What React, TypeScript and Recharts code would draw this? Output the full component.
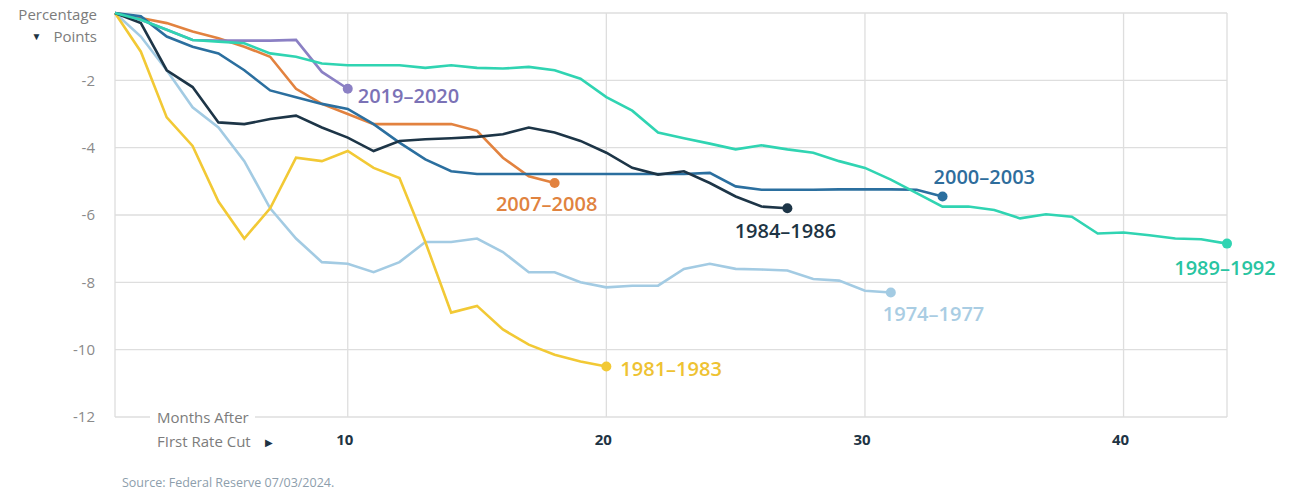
import { CartesianGrid, Line, LineChart, XAxis, YAxis } from "recharts";

const MONTHS = Array.from({ length: 44 }, (_, i) => i + 1);
const X_TICKS = [10, 20, 30, 40];
const Y_TICKS = [-12, -10, -8, -6, -4, -2, 0];

const S_1974 = [0, -0.7, -1.7, -2.8, -3.4, -4.4, -5.8, -6.7, -7.4, -7.45, -7.7, -7.4, -6.8, -6.8, -6.7, -7.1, -7.7, -7.7, -8.0, -8.15, -8.1, -8.1, -7.6, -7.45, -7.6, -7.62, -7.65, -7.9, -7.95, -8.25, -8.3];
const S_1981 = [0, -1.15, -3.1, -3.95, -5.6, -6.7, -5.8, -4.3, -4.4, -4.1, -4.6, -4.9, -6.8, -8.9, -8.7, -9.4, -9.85, -10.15, -10.35, -10.5];
const S_1984 = [0, -0.3, -1.7, -2.2, -3.25, -3.3, -3.15, -3.05, -3.4, -3.7, -4.1, -3.8, -3.75, -3.72, -3.68, -3.6, -3.4, -3.55, -3.8, -4.15, -4.6, -4.8, -4.7, -5.05, -5.45, -5.75, -5.8];
const S_1989 = [0, -0.2, -0.5, -0.8, -0.85, -0.9, -1.2, -1.3, -1.5, -1.55, -1.55, -1.55, -1.63, -1.55, -1.63, -1.65, -1.6, -1.7, -1.95, -2.5, -2.9, -3.55, -3.72, -3.88, -4.05, -3.93, -4.05, -4.15, -4.4, -4.6, -4.95, -5.35, -5.75, -5.75, -5.85, -6.1, -5.98, -6.05, -6.55, -6.52, -6.6, -6.7, -6.72, -6.85];
const S_2000 = [0, -0.1, -0.7, -1.0, -1.2, -1.7, -2.3, -2.5, -2.7, -2.85, -3.3, -3.85, -4.35, -4.7, -4.78, -4.78, -4.78, -4.78, -4.78, -4.78, -4.78, -4.78, -4.78, -4.75, -5.15, -5.25, -5.25, -5.25, -5.24, -5.24, -5.24, -5.25, -5.45];
const S_2007 = [0, -0.15, -0.3, -0.55, -0.75, -1.0, -1.3, -2.25, -2.7, -3.0, -3.3, -3.3, -3.3, -3.3, -3.5, -4.3, -4.85, -5.05];
const S_2019 = [0, -0.2, -0.5, -0.8, -0.82, -0.82, -0.82, -0.8, -1.75, -2.25];

// label placement relative to each series' last point
const SERIES = [
  { key: "s1974", name: "1974–1977", values: S_1974, color: "#a3cbe3", text: "#a9cde3", dx: -8, dy: 22, anchor: "start" },
  { key: "s1981", name: "1981–1983", values: S_1981, color: "#f2c935", text: "#eec232", dx: 14, dy: 2, anchor: "start" },
  { key: "s2007", name: "2007–2008", values: S_2007, color: "#e2823f", text: "#e0833f", dx: -8, dy: 21, anchor: "middle" },
  { key: "s2019", name: "2019–2020", values: S_2019, color: "#8b80c4", text: "#7b72b6", dx: 10, dy: 7, anchor: "start" },
  { key: "s2000", name: "2000–2003", values: S_2000, color: "#2b6f9f", text: "#2e6d9c", dx: -9, dy: -19, anchor: "start" },
  { key: "s1984", name: "1984–1986", values: S_1984, color: "#1d3547", text: "#1d3444", dx: -2, dy: 23, anchor: "middle" },
  { key: "s1989", name: "1989–1992", values: S_1989, color: "#30d4b2", text: "#28c4a1", dx: -2, dy: 24, anchor: "middle" },
];

const data = MONTHS.map((m, i) => {
  const row: Record<string, number> = { month: m };
  SERIES.forEach((s) => {
    if (i < s.values.length) row[s.key] = s.values[i];
  });
  return row;
});

const FONT = "'Open Sans', 'Noto Sans', sans-serif";

export default function App() {
  return (
    <div style={{ position: "relative", width: 1291, height: 495, background: "#fff", fontFamily: FONT }}>
      <style>{"body{margin:0}"}</style>
      <LineChart width={1291} height={495} data={data} margin={{ top: 13, right: 64, left: 0, bottom: 48 }}>
        <CartesianGrid stroke="#dedede" strokeWidth={1.3} />
        <XAxis
          type="number"
          dataKey="month"
          domain={[1, 44]}
          ticks={X_TICKS}
          axisLine={false}
          tickLine={false}
          height={30}
          tick={(p: any) => (
            <text x={p.x - 3} y={p.y + 20} textAnchor="middle" fontSize={15} fontWeight={700} fill="#1e3444" fontFamily={FONT}>
              {p.payload.value}
            </text>
          )}
        />
        <YAxis
          type="number"
          domain={[-12, 0]}
          ticks={Y_TICKS}
          width={115}
          axisLine={false}
          tickLine={false}
          tick={(p: any) =>
            p.payload.value === 0 ? (
              <g />
            ) : (
              <text x={p.x - 12} y={p.y} dy="0.35em" textAnchor="end" fontSize={15} fill="#8a8a8a" fontFamily={FONT}>
                {p.payload.value}
              </text>
            )
          }
        />
        {SERIES.map((s) => {
          const last = s.values.length - 1;
          return (
            <Line
              key={s.key}
              dataKey={s.key}
              type="linear"
              stroke={s.color}
              strokeWidth={2.6}
              isAnimationActive={false}
              activeDot={false}
              dot={(p: any) =>
                p.index === last ? (
                  <circle key={p.index} cx={p.cx} cy={p.cy} r={5} fill={s.color} />
                ) : (
                  <g key={p.index} />
                )
              }
              label={(p: any) =>
                p.index === last ? (
                  <text
                    key={p.index}
                    x={p.x + s.dx}
                    y={p.y + s.dy}
                    dy="0.35em"
                    textAnchor={s.anchor}
                    fontSize={20}
                    fontWeight={600}
                    fill={s.text}
                    fontFamily={FONT}
                  >
                    {s.name}
                  </text>
                ) : (
                  <g key={p.index} />
                )
              }
            />
          );
        })}
      </LineChart>

      <div style={{ position: "absolute", right: 1291 - 97, top: 3, textAlign: "right", fontSize: 15, color: "#7c7c7c", lineHeight: "22px", whiteSpace: "nowrap" }}>
        <div>Percentage</div>
        <div>
          <span style={{ color: "#1e3444", fontSize: 10, marginRight: 12, position: "relative", top: -2 }}>▼</span>Points
        </div>
      </div>

      <div style={{ position: "absolute", left: 150, top: 405, fontSize: 15, color: "#7c7c7c", lineHeight: "24px", whiteSpace: "nowrap" }}>
        <div style={{ background: "#fff", padding: "0 6px 0 7px", display: "inline-block" }}>Months After</div>
        <div style={{ paddingLeft: 7 }}>
          FIrst Rate Cut
          <span style={{ color: "#1e3444", fontSize: 10, marginLeft: 14, position: "relative", top: -1 }}>▶</span>
        </div>
      </div>

      <div style={{ position: "absolute", left: 122, top: 474, fontSize: 12.5, color: "#8d9eac", whiteSpace: "nowrap" }}>
        Source: Federal Reserve 07/03/2024.
      </div>
    </div>
  );
}
